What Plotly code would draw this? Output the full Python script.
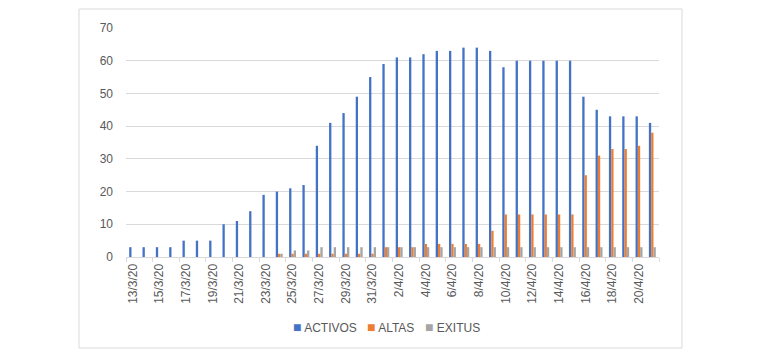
import plotly.graph_objects as go

fechas = ["13/3/20", "14/3/20", "15/3/20", "16/3/20", "17/3/20", "18/3/20", "19/3/20",
          "20/3/20", "21/3/20", "22/3/20", "23/3/20", "24/3/20", "25/3/20", "26/3/20",
          "27/3/20", "28/3/20", "29/3/20", "30/3/20", "31/3/20", "1/4/20", "2/4/20",
          "3/4/20", "4/4/20", "5/4/20", "6/4/20", "7/4/20", "8/4/20", "9/4/20",
          "10/4/20", "11/4/20", "12/4/20", "13/4/20", "14/4/20", "15/4/20", "16/4/20",
          "17/4/20", "18/4/20", "19/4/20", "20/4/20", "21/4/20"]

activos = [3, 3, 3, 3, 5, 5, 5, 10, 11, 14, 19, 20, 21, 22, 34, 41, 44, 49, 55, 59,
           61, 61, 62, 63, 63, 64, 64, 63, 58, 60, 60, 60, 60, 60, 49, 45, 43, 43, 43, 41]
altas = [0, 0, 0, 0, 0, 0, 0, 0, 0, 0, 0, 1, 1, 1, 1, 1, 1, 1, 1, 3,
         3, 3, 4, 4, 4, 4, 4, 8, 13, 13, 13, 13, 13, 13, 25, 31, 33, 33, 34, 38]
exitus = [0, 0, 0, 0, 0, 0, 0, 0, 0, 0, 0, 1, 2, 2, 3, 3, 3, 3, 3, 3,
          3, 3, 3, 3, 3, 3, 3, 3, 3, 3, 3, 3, 3, 3, 3, 3, 3, 3, 3, 3]

series = [("ACTIVOS", activos, "#4472C4"),
          ("ALTAS", altas, "#ED7D31"),
          ("EXITUS", exitus, "#A5A5A5")]

fig = go.Figure()
for name, vals, color in series:
    fig.add_trace(go.Bar(x=fechas, y=vals, name=name, marker_color=color,
                         marker_line_width=0, showlegend=False))

OFF = 8  # default page body margin
W, H = 770 - OFF, 356 - OFF
L, R, T, B = 126 - OFF, 659 - OFF, 28 - OFF, 257 - OFF
pw, ph = R - L, B - T

def px(x):
    return (x - OFF - L) / pw

def py(y):
    return (B - (y - OFF)) / ph

fig.update_layout(
    width=W, height=H,
    margin=dict(l=L, r=W - R, t=T, b=H - B, pad=0),
    paper_bgcolor="white", plot_bgcolor="white",
    barmode="group", bargap=0.48, bargroupgap=0,
    font=dict(family="Liberation Sans, Arial, sans-serif", size=12, color="#595959"),
    showlegend=False,
)
fig.update_xaxes(type="category", tickmode="linear", tick0=0, dtick=2,
                 tickangle=-90, showgrid=False, showline=True, linecolor="#D9D9D9",
                 ticks="outside", tickson="boundaries", ticklen=4, tickcolor="#D9D9D9",
                 tickfont=dict(size=12, color="#595959"), ticklabelstandoff=1)
fig.update_yaxes(range=[0, 70], dtick=10, showgrid=True, gridcolor="#D9D9D9",
                 gridwidth=1, zeroline=False, showline=False,
                 tickfont=dict(size=12, color="#595959"), ticklabelstandoff=12)

fig.add_shape(type="rect", xref="paper", yref="paper",
              x0=px(79), x1=px(682), y0=py(348), y1=py(9),
              line=dict(color="#D9D9D9", width=1), fillcolor="rgba(0,0,0,0)", layer="below")

legend_x = [291, 365, 423]
for (name, vals, color), lx in zip(series, legend_x):
    fig.add_annotation(xref="paper", yref="paper", x=px(lx), y=py(327),
                       xanchor="left", yanchor="middle", showarrow=False,
                       text=f'<span style="color:{color};font-size:14px">■</span> {name}',
                       font=dict(size=12, color="#595959"))

fig.write_html("out.html")
